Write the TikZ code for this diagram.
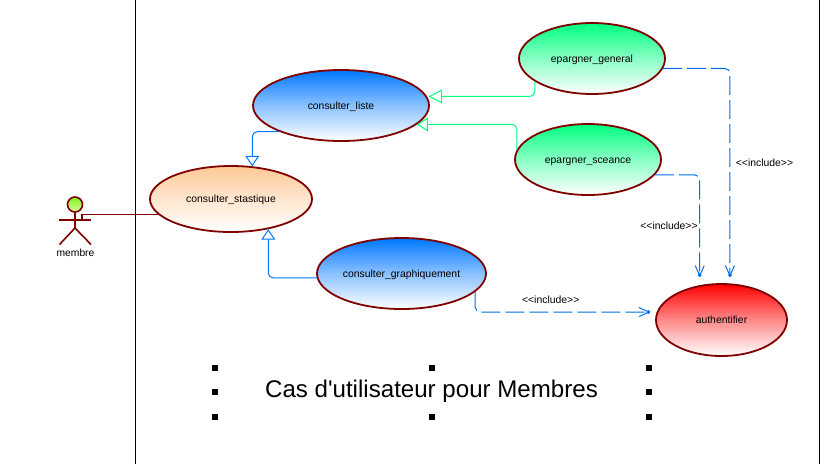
\documentclass[tikz,border=0pt]{standalone}
\usepackage{fontspec}
\setmainfont{Liberation Sans}[Ligatures=TeXOff]
\usetikzlibrary{shapes.geometric,arrows.meta}
\definecolor{ucborder}{RGB}{128,0,0}
\definecolor{ucblue}{RGB}{0,120,255}
\definecolor{ucgreen}{RGB}{0,255,128}
\definecolor{ucorange}{RGB}{255,200,150}
\definecolor{ucred}{RGB}{255,0,0}
\definecolor{dashblue}{RGB}{0,110,235}
\tikzset{
  usecase/.style={ellipse,draw=ucborder,line width=1.8pt,inner sep=0pt,font=\fontsize{10.4}{12}\selectfont,text=black,text height=8pt,text depth=1pt},
  blueuc/.style={usecase,top color=ucblue,bottom color=white,middle color=ucblue!46!white},
  greenuc/.style={usecase,top color=ucgreen,bottom color=white,middle color=ucgreen!46!white},
  orangeuc/.style={usecase,top color=ucorange,bottom color=white,middle color=ucorange!46!white},
  reduc/.style={usecase,top color=ucred,bottom color=white,middle color=ucred!46!white},
  genblue/.style={draw=ucblue,line width=1pt,rounded corners=5pt,-{Triangle[open,fill=white,length=10.5pt,width=14pt]}},
  gengreen/.style={draw=ucgreen,line width=1pt,rounded corners=5pt,-{Triangle[open,fill=white,length=13.5pt,width=14pt]}},
  gengreenshort/.style={draw=ucgreen,line width=1pt,rounded corners=5pt,-{Triangle[open,fill=white,length=11pt,width=14pt]}},
  incl/.style={draw=dashblue,line width=1pt,rounded corners=5pt,dash pattern=on 19pt off 5pt,
    -{Straight Barb[length=10pt,width=9pt,sep=-3.5pt]Circle[length=3.5pt]}},
  incllabel/.style={font=\fontsize{10.4}{11}\selectfont,text=black,inner sep=0pt},
  handle/.style={fill=black,draw=none,minimum size=6pt,inner sep=0pt,rectangle},
  actorline/.style={draw=ucborder,line width=1.6pt},
}
\begin{document}
\begin{tikzpicture}[x=1pt,y=-1pt]
\useasboundingbox (0,0) rectangle (824,464);
\fill[white] (0,0) rectangle (824,464);
\coordinate (swimtop) at (135.5,0);
\coordinate (swimbot) at (135.5,464);
\draw[black,line width=1pt] (swimtop) -- (swimbot);
\coordinate (edgetop) at (819.5,0);
\coordinate (edgebot) at (819.5,464);
\draw[black,line width=1pt] (edgetop) -- (edgebot);

\node[blueuc,minimum width=176pt,minimum height=71pt] (liste) at (341,105.5) {consulter\_liste};
\node[orangeuc,minimum width=162pt,minimum height=66pt] (stast) at (231,199) {consulter\_stastique};
\node[greenuc,minimum width=146pt,minimum height=71pt] (gen) at (592,58.5) {epargner\_general};
\node[greenuc,minimum width=146pt,minimum height=71pt] (sce) at (588,159.5) {epargner\_sceance};
\node[blueuc,minimum width=169pt,minimum height=71pt] (graph) at (401.5,273.5) {consulter\_graphiquement};
\node[reduc,minimum width=131pt,minimum height=72pt] (auth) at (721.5,320) {authentifier};

% actor
\node[circle,draw=ucborder,line width=1.6pt,minimum size=15pt,inner sep=0pt,top color={rgb,255:red,130;green,240;blue,20},bottom color={rgb,255:red,215;green,255;blue,160}] (head) at (75,204.5) {};
\coordinate (hip) at (75,228);
\coordinate (armL) at (59,220);
\coordinate (armR) at (91,220);
\coordinate (legL) at (59.5,244.5);
\coordinate (legR) at (91,244.5);
\coordinate (shoulder) at (82,220);
\draw[actorline] (head) -- (hip) -- (legL);
\draw[actorline] (hip) -- (legR);
\draw[actorline] (armL) -- (armR);
\node[font=\fontsize{10.3}{12}\selectfont,inner sep=0pt] (membre) at (75.5,253) {membre};
\draw[draw=ucborder,line width=1.1pt] (shoulder) |- (stast.192);

% generalizations
\draw[genblue] (liste.203.6) -| (stast.57.9);
\draw[genblue] (graph.183.04) -| (stast.-39.1);
\draw[gengreen,shorten >=1.5pt] (gen.202.6) |- (liste.6.83);
\draw[gengreenshort] (sce.172.6) |- (liste.-14.1);

% includes
\draw[incl,shorten >=6.5pt] (gen.-8.9) -| (auth.77.63);
\draw[incl,shorten >=8.3pt] (sce.-13.1) -| (auth.122.4);
\draw[incl,shorten >=6.5pt] (graph.-14.52) |- (auth.173.22);
\node[incllabel] (l1) at (764.5,162.5) {<<include>>};
\node[incllabel] (l2) at (669,226) {<<include>>};
\node[incllabel] (l3) at (550.7,299.5) {<<include>>};

% title with handles
\node[font=\fontsize{24.1}{28}\selectfont,inner sep=0pt,text=black] (title) at (431.5,391) {Cas d'utilisateur pour Membres};
\node[handle] (h1) at (215,367.5) {};
\node[handle] (h2) at (432,367.5) {};
\node[handle] (h3) at (649,367.5) {};
\node[handle] (h4) at (215,391.5) {};
\node[handle] (h5) at (649,391.5) {};
\node[handle] (h6) at (215,417) {};
\node[handle] (h7) at (432,417) {};
\node[handle] (h8) at (649,417) {};
\end{tikzpicture}
\end{document}
